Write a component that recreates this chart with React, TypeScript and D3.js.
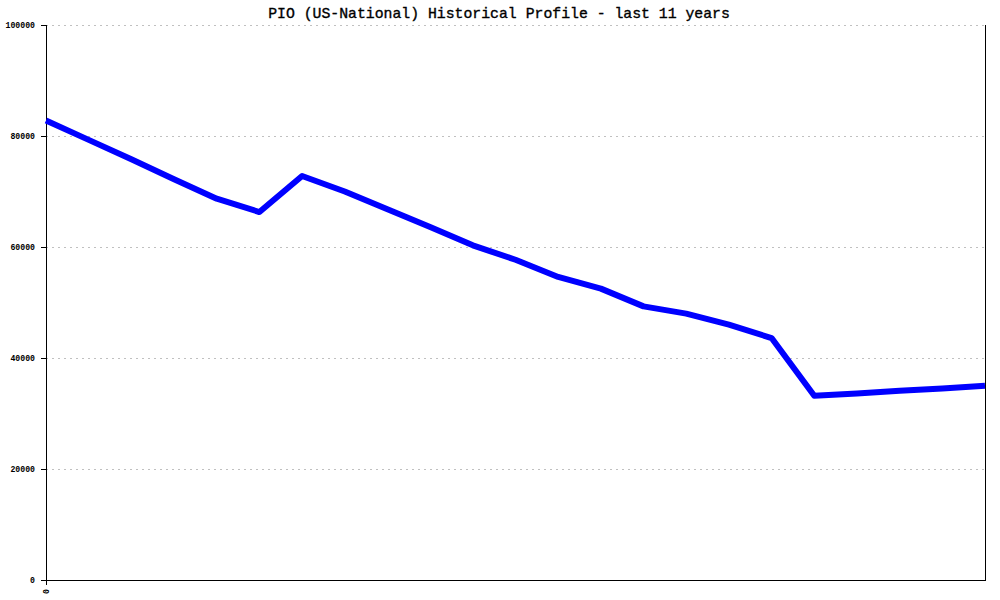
import React from "react";
import * as d3 from "d3";

const TITLE = "PIO (US-National) Historical Profile - last 11 years";
const periods: number[] = d3.range(23);
const values: number[] = [
  82800, 79300, 75800, 72200, 68700, 66300, 72800, 70000, 66800, 63600, 60300,
  57700, 54600, 52500, 49300, 48000, 46000, 43600, 33200, 33600, 34100, 34500, 35000,
];
const yTicks: number[] = [0, 20000, 40000, 60000, 80000, 100000];
const xTickLabels: string[] = ["0"];

const W = 1000;
const H = 600;
const M = { left: 46, right: 15, top: 25, bottom: 20 };

export default function App() {
  const x = d3
    .scaleLinear()
    .domain([0, periods.length - 1])
    .range([M.left, W - M.right]);
  const y = d3.scaleLinear().domain([0, 100000]).range([H - M.bottom, M.top]);
  const line = d3
    .line<number>()
    .x((_, i) => x(periods[i]))
    .y((d) => y(d));
  const mono = "'Liberation Mono', 'DejaVu Sans Mono', monospace";
  return (
    <svg
      width={W}
      height={H}
      style={{ position: "absolute", left: 0, top: 0, background: "#fff" }}
    >
      <text
        x={499}
        y={18}
        textAnchor="middle"
        fontFamily={mono}
        fontSize={14.8}
        fill="#000"
        stroke="#000"
        strokeWidth={0.35}
      >
        {TITLE}
      </text>
      {yTicks.map((t) => (
        <g key={t}>
          {t > 0 && (
            <line
              x1={M.left}
              x2={W - M.right}
              y1={Math.round(y(t)) + 0.5}
              y2={Math.round(y(t)) + 0.5}
              stroke="#c0c0c0"
              strokeDasharray="2,4"
            />
          )}
          <line
            x1={M.left - 5}
            x2={M.left}
            y1={Math.round(y(t)) + 0.5}
            y2={Math.round(y(t)) + 0.5}
            stroke="#000"
          />
          <text
            x={M.left - 11}
            y={y(t) + 3}
            textAnchor="end"
            fontFamily={mono}
            fontWeight="bold"
            fontSize={8.2}
            fill="#000"
          >
            {t}
          </text>
        </g>
      ))}
      <line x1={M.left + 0.5} x2={M.left + 0.5} y1={M.top} y2={H - M.bottom} stroke="#000" />
      <line x1={W - M.right + 0.5} x2={W - M.right + 0.5} y1={M.top} y2={H - M.bottom} stroke="#000" />
      <line x1={M.left} x2={W - M.right + 1} y1={H - M.bottom + 0.5} y2={H - M.bottom + 0.5} stroke="#000" />
      <line x1={M.left + 0.5} x2={M.left + 0.5} y1={H - M.bottom} y2={H - M.bottom + 5} stroke="#000" />
      {xTickLabels.map((l, i) => (
        <text
          key={i}
          transform={`translate(${x(periods[i]) + 3},${H - M.bottom + 9}) rotate(-90)`}
          textAnchor="end"
          fontFamily={mono}
          fontWeight="bold"
          fontSize={8.2}
          fill="#000"
        >
          {l}
        </text>
      ))}
      <path
        d={line(values) || ""}
        fill="none"
        stroke="#0000ff"
        strokeWidth={6}
        strokeLinejoin="round"
      />
    </svg>
  );
}
